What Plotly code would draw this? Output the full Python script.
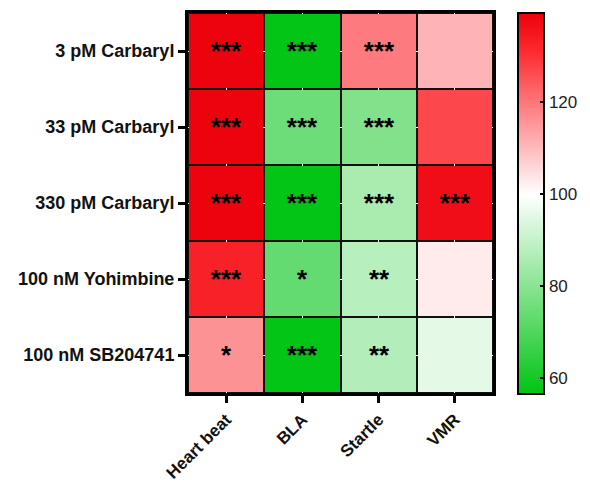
import plotly.graph_objects as go

# Treatments (rows, top to bottom) and endpoints (columns)
treatments = ["3 pM Carbaryl", "33 pM Carbaryl", "330 pM Carbaryl",
              "100 nM Yohimbine", "100 nM SB204741"]
endpoints = ["Heart beat", "BLA", "Startle", "VMR"]

# Percent of control for each treatment / endpoint
heart_beat = [139, 139, 139, 133, 116]
bla = [57, 75, 57, 73.5, 57]
startle = [119.5, 78.5, 85.5, 88, 87]
vmr = [111, 127, 137, 103, 95.5]

# Significance markers
sig_heart_beat = ["***", "***", "***", "***", "*"]
sig_bla = ["***", "***", "***", "*", "***"]
sig_startle = ["***", "***", "***", "**", "**"]
sig_vmr = ["", "", "***", "", ""]

zmin, zmax = 56.6, 139.6
mid = (100 - zmin) / (zmax - zmin)

z = [list(r) for r in zip(heart_beat, bla, startle, vmr)]
sig = [list(r) for r in zip(sig_heart_beat, sig_bla, sig_startle, sig_vmr)]

colorscale = [
    [0, "rgb(0,196,20)"],
    [mid, "rgb(255,255,255)"],
    [mid + (1 - mid) * 0.8, "rgb(252,40,45)"],
    [1, "rgb(236,0,12)"],
]

fig = go.Figure(go.Heatmap(
    z=z, x=endpoints, y=treatments, text=sig,
    texttemplate="%{text}",
    textfont=dict(family="Liberation Sans", size=26, color="black", weight="bold"),
    zmin=zmin, zmax=zmax,
    colorscale=colorscale,
    xgap=2, ygap=2,
    colorbar=dict(
        thickness=26, lenmode="pixels", len=381, y=0.5, yanchor="middle",
        x=1.082, xanchor="left", xpad=0, ypad=0,
        outlinecolor="black", outlinewidth=2,
        tickvals=[60, 80, 100, 120], ticks="inside", ticklen=5,
        tickcolor="black", tickwidth=2,
        tickfont=dict(family="Liberation Sans", size=17, color="#222"),
    ),
    hoverongaps=False,
))

fig.update_xaxes(
    tickangle=-45, ticks="outside", ticklen=7, tickwidth=2.5, tickcolor="black",
    showline=True, linecolor="black", linewidth=3, mirror=True,
    tickfont=dict(family="Liberation Sans", size=17, color="#111", weight="bold"),
)
fig.update_yaxes(
    autorange="reversed", ticks="outside", ticklen=7, tickwidth=2.5, tickcolor="black",
    showline=True, linecolor="black", linewidth=3, mirror=True,
    tickfont=dict(family="Liberation Sans", size=18, color="#111", weight="bold"),
)

fig.update_layout(
    width=590, height=484,
    margin=dict(l=188, r=97, t=13, b=91, autoexpand=False),
    plot_bgcolor="#111", paper_bgcolor="white",
)

fig.write_html("out.html")
